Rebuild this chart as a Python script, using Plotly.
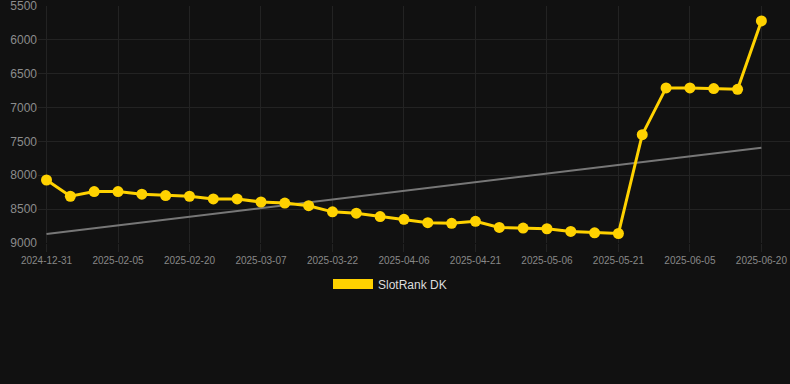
import plotly.graph_objects as go

categories = [
    "2024-12-31", "2025-01-26", "2025-01-31", "2025-02-05", "2025-02-10", "2025-02-15",
    "2025-02-20", "2025-02-25", "2025-03-02", "2025-03-07", "2025-03-12", "2025-03-17",
    "2025-03-22", "2025-03-27", "2025-04-01", "2025-04-06", "2025-04-11", "2025-04-16",
    "2025-04-21", "2025-04-26", "2025-05-01", "2025-05-06", "2025-05-11", "2025-05-16",
    "2025-05-21", "2025-05-26", "2025-05-31", "2025-06-05", "2025-06-10", "2025-06-15",
    "2025-06-20",
]
rank_values = [
    8070, 8310, 8240, 8240, 8280, 8300, 8310, 8350, 8350, 8395, 8410, 8450,
    8540, 8560, 8610, 8650, 8700, 8710, 8680, 8770, 8780, 8790, 8830, 8850,
    8860, 7400, 6710, 6710, 6720, 6730, 5720,
]
trend_categories = [categories[0], categories[-1]]
trend_values = [8868, 7593]
tick_labels = categories[::3]
y_ticks = [5500, 6000, 6500, 7000, 7500, 8000, 8500, 9000]
series_name = "SlotRank DK"

YELLOW = "#FFD200"
BG = "#111111"
GRID = "#232323"

fig = go.Figure()
fig.add_trace(go.Scatter(
    x=trend_categories, y=trend_values, mode="lines",
    line=dict(color="#777777", width=2), showlegend=False, hoverinfo="skip",
))
fig.add_trace(go.Scatter(
    x=categories, y=rank_values, mode="lines+markers",
    line=dict(color=YELLOW, width=3), marker=dict(color=YELLOW, size=11),
    showlegend=False, name=series_name,
))
fig.add_trace(go.Scatter(
    x=[None], y=[None], mode="lines", name=series_name,
    line=dict(color=YELLOW, width=12), showlegend=True,
))

fig.update_layout(
    width=790, height=384,
    paper_bgcolor=BG, plot_bgcolor=BG,
    margin=dict(l=38, r=0, t=6, b=141),
    font=dict(family="Liberation Sans, Arial, sans-serif", color="#8c8c8c", size=12),
    legend=dict(
        orientation="h", xref="container", yref="container",
        x=0.5 - 5 / 790, xanchor="center", y=1 - 284 / 384, yanchor="middle",
        font=dict(color="#DDDDDD", size=12), itemwidth=40,
        bgcolor="rgba(0,0,0,0)",
    ),
    xaxis=dict(
        type="category", categoryorder="array", categoryarray=categories,
        range=[-0.357, 31.2],
        tickmode="array", tickvals=tick_labels, ticktext=tick_labels,
        tickfont=dict(size=10, color="#888888"),
        showgrid=True, gridcolor=GRID, gridwidth=1,
        ticks="outside", ticklen=8, tickcolor=GRID,
        showline=False, zeroline=False,
    ),
    yaxis=dict(
        range=[9000.5, 5499.5], tickmode="array", tickvals=y_ticks,
        tickfont=dict(size=12, color="#8c8c8c"),
        showgrid=True, gridcolor=GRID, gridwidth=1,
        ticks="", showline=False, zeroline=False,
        ticklabeloverflow="allow",
    ),
)

fig.write_html(
    "out.html",
    config={"displayModeBar": False},
    post_script="document.body.style.margin='0';document.body.style.background='#111111';",
)
